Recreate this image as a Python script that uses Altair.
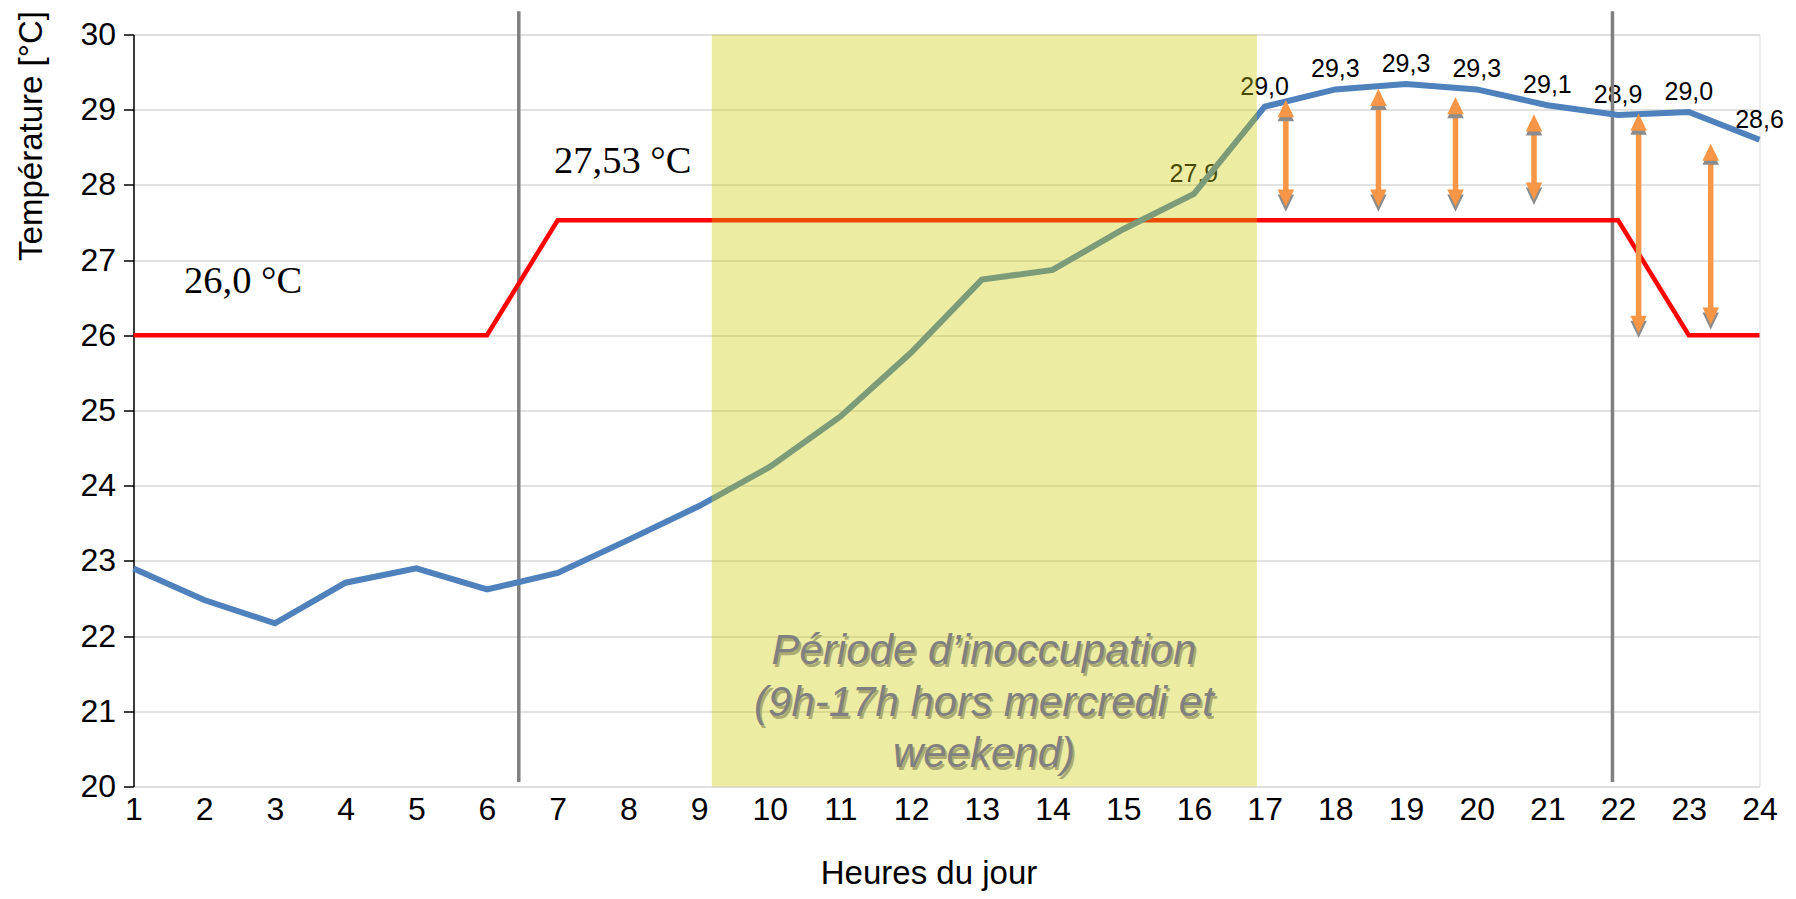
import altair as alt
import pandas as pd

SANS = "Liberation Sans"
SERIF = "Liberation Serif"

# ---- data ----
hours = list(range(1, 25))
temperature = [22.90, 22.48, 22.17, 22.71, 22.90, 22.62, 22.84, 23.28, 23.73, 24.25,
               24.92, 25.77, 26.74, 26.87, 27.41, 27.88, 29.04, 29.27, 29.34, 29.27,
               29.06, 28.93, 28.97, 28.60]
setpoint = [26.0] * 6 + [27.53] * 16 + [26.0] * 2

label_hours = [16, 17, 18, 19, 20, 21, 22, 23, 24]
label_texts = ["27,9", "29,0", "29,3", "29,3", "29,3", "29,1", "28,9", "29,0", "28,6"]

vline_hours = [6.45, 21.92]
vline_low = [20.06, 20.06]
vline_high = [30.31, 30.31]

period_start = [9.18]
period_end = [16.89]
period_low = [20.0]
period_high = [30.0]
period_text = ["Période d\u2019inoccupation\n(9h-17h hors mercredi et\nweekend)"]
period_text_x = [13.03]
period_text_y = [21.63]

arrow_x = [17.30, 18.61, 19.70, 20.81, 22.29, 23.31]
arrow_top = [29.13, 29.28, 29.17, 28.94, 28.95, 28.55]
arrow_bottom = [27.71, 27.71, 27.71, 27.80, 26.03, 26.14]

ann_x = [2.55, 7.92]
ann_y = [26.56, 28.16]
ann_text = ["26,0 °C", "27,53 °C"]

# ---- tables ----
df_temp = pd.DataFrame({"x": hours, "y": temperature})
df_set = pd.DataFrame({"x": hours, "y": setpoint})
df_lab = pd.DataFrame({"x": label_hours,
                       "y": [temperature[h - 1] for h in label_hours],
                       "t": label_texts})
df_vl = pd.DataFrame({"x": vline_hours, "y": vline_low, "y2": vline_high})
df_rect = pd.DataFrame({"x": period_start, "x2": period_end, "y": period_low, "y2": period_high})
df_ptxt = pd.DataFrame({"x": period_text_x, "y": period_text_y, "t": period_text})
df_arrow = pd.DataFrame({"x": arrow_x, "y": arrow_top, "y2": arrow_bottom})
df_up = pd.DataFrame({"x": arrow_x, "y": arrow_top})
df_down = pd.DataFrame({"x": arrow_x, "y": arrow_bottom})
df_ann = pd.DataFrame({"x": ann_x, "y": ann_y, "t": ann_text})

xscale = alt.Scale(domain=[1, 24], nice=False, zero=False)
yscale = alt.Scale(domain=[20, 30], nice=False, zero=False)

xaxis = alt.Axis(values=hours, grid=False, domain=False, ticks=False,
                 labelFont=SANS, labelFontSize=32, labelColor="black",
                 labelPadding=8, labelFlush=False, labelOverlap=False,
                 title="Heures du jour", titleFont=SANS, titleFontSize=33,
                 titleFontWeight="normal", titleColor="black",
                 titleX=795, titleY=97, titleAlign="center",
                 titleBaseline="alphabetic")
yaxis = alt.Axis(values=list(range(20, 31)), grid=True, gridColor="#D9D9D9",
                 gridWidth=1.6, domain=True, domainColor="black", domainWidth=1.5,
                 ticks=True, tickColor="black", tickSize=10, tickWidth=1.5,
                 labelFont=SANS, labelFontSize=32, labelColor="black",
                 labelPadding=8, labelFlush=False, labelOverlap=False,
                 title="Température [°C]", titleFont=SANS, titleFontSize=33,
                 titleFontWeight="normal", titleColor="black",
                 titleAngle=270, titleX=-92, titleY=101, titleAlign="center",
                 titleBaseline="alphabetic")

X = alt.X("x:Q", scale=xscale, axis=xaxis)
Y = alt.Y("y:Q", scale=yscale, axis=yaxis)

labels = alt.Chart(df_lab).mark_text(
    font=SANS, fontSize=25, color="black", baseline="alphabetic", align="center", dy=-12
).encode(x=X, y=Y, text="t:N")

vlines = alt.Chart(df_vl).mark_rule(color="#7F7F7F", strokeWidth=3.5).encode(
    x=X, y=Y, y2=alt.Y2("y2:Q"))

red = alt.Chart(df_set).mark_line(color="#FF0000", strokeWidth=4.5).encode(x=X, y=Y)
blue = alt.Chart(df_temp).mark_line(color="#4F81BD", strokeWidth=6).encode(x=X, y=Y)

rect_shadow = alt.Chart(df_rect).mark_rect(color="#D9D9D9", opacity=0.8, yOffset=4, y2Offset=4).encode(
    x=X, x2=alt.X2("x2:Q"), y=Y, y2=alt.Y2("y"))
rect = alt.Chart(df_rect).mark_rect(color="#C9C900", opacity=0.36).encode(
    x=X, x2=alt.X2("x2:Q"), y=Y, y2=alt.Y2("y2:Q"))

ptxt_shadow = alt.Chart(df_ptxt).mark_text(
    font=SANS, fontSize=42, fontStyle="italic", color="#ABAB72", align="center",
    baseline="alphabetic", lineBreak="\n", lineHeight=51.7, dx=2, dy=3
).encode(x=X, y=Y, text="t:N")
ptxt = alt.Chart(df_ptxt).mark_text(
    font=SANS, fontSize=42, fontStyle="italic", color="#808080", align="center",
    baseline="alphabetic", lineBreak="\n", lineHeight=51.7
).encode(x=X, y=Y, text="t:N")

ann = alt.Chart(df_ann).mark_text(
    font=SERIF, fontSize=38.5, color="black", align="center", baseline="alphabetic"
).encode(x=X, y=Y, text="t:N")

UP = "M0,0L-1,2.1L1,2.1Z"
DOWN = "M0,0L-1,-2.1L1,-2.1Z"
ORANGE = "#F79646"

shaft = alt.Chart(df_arrow).mark_rule(color=ORANGE, strokeWidth=5.5, yOffset=12, y2Offset=-12).encode(
    x=X, y=Y, y2=alt.Y2("y2:Q"))
up_sh = alt.Chart(df_up).mark_point(shape=UP, size=272, filled=True, color="#8C8C8C",
                                    opacity=1, strokeWidth=0, yOffset=4).encode(x=X, y=Y)
down_sh = alt.Chart(df_down).mark_point(shape=DOWN, size=272, filled=True, color="#8C8C8C",
                                        opacity=1, strokeWidth=0, yOffset=5).encode(x=X, y=Y)
up = alt.Chart(df_up).mark_point(shape=UP, size=272, filled=True, color=ORANGE,
                                 opacity=1, strokeWidth=0).encode(x=X, y=Y)
down = alt.Chart(df_down).mark_point(shape=DOWN, size=272, filled=True, color=ORANGE,
                                     opacity=1, strokeWidth=0).encode(x=X, y=Y)

chart = alt.layer(
    labels, vlines, red, blue, rect_shadow, rect, ptxt_shadow, ptxt, ann,
    shaft, up_sh, down_sh, up, down
).properties(
    width=1626, height=752,
    autosize=alt.AutoSizeParams(type="none"),
    padding={"left": 125.5, "top": 26.5, "right": 28, "bottom": 104},
).configure_view(stroke=None).configure(font=SANS, background="white")

chart.save("out.html", embed_options={"renderer": "svg", "actions": False})
